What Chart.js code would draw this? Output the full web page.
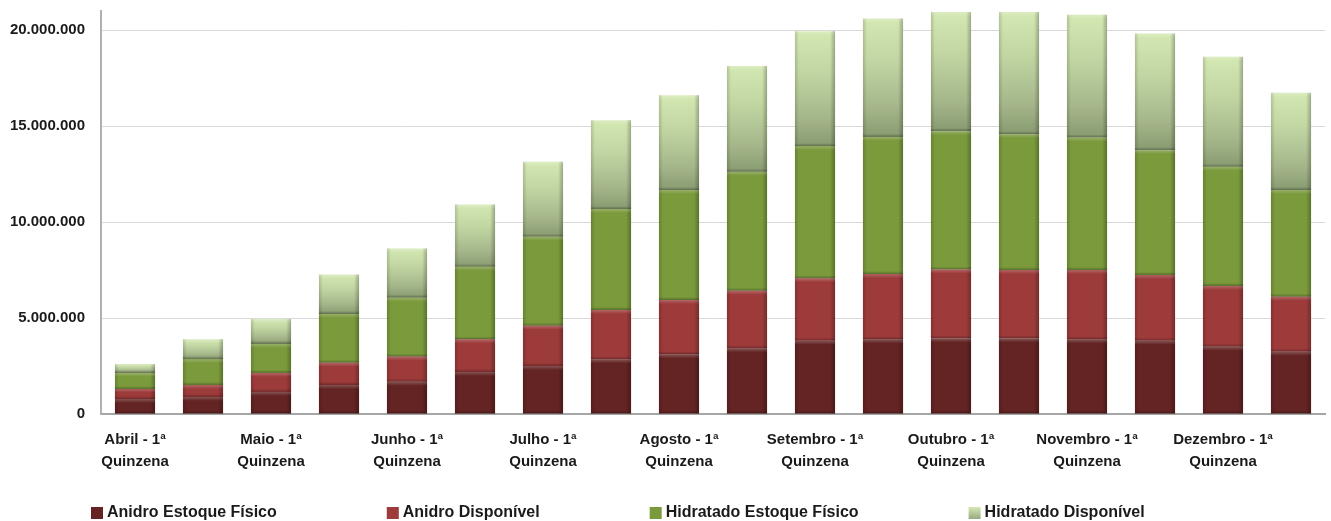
<!DOCTYPE html>
<html lang="pt-BR">
<head>
<meta charset="utf-8">
<title>Estoques de etanol por quinzena</title>
<script src="https://cdn.jsdelivr.net/npm/chart.js@4.4.1/dist/chart.umd.min.js"></script>
<style>
  html, body { margin: 0; padding: 0; background: #ffffff; }
  #wrap { width: 1331px; height: 521px; position: relative; overflow: hidden; }
  canvas { display: block; }
</style>
</head>
<body>
<div id="wrap"><canvas id="chart" width="1331" height="521"></canvas></div>
<script>
// Categories: fortnights from April to December
const quinzenas = [
  'Abril - 1ª Quinzena', 'Abril - 2ª Quinzena',
  'Maio - 1ª Quinzena', 'Maio - 2ª Quinzena',
  'Junho - 1ª Quinzena', 'Junho - 2ª Quinzena',
  'Julho - 1ª Quinzena', 'Julho - 2ª Quinzena',
  'Agosto - 1ª Quinzena', 'Agosto - 2ª Quinzena',
  'Setembro - 1ª Quinzena', 'Setembro - 2ª Quinzena',
  'Outubro - 1ª Quinzena', 'Outubro - 2ª Quinzena',
  'Novembro - 1ª Quinzena', 'Novembro - 2ª Quinzena',
  'Dezembro - 1ª Quinzena', 'Dezembro - 2ª Quinzena'
];

// Series (m³)
const anidroEstoqueFisico = [
  780000, 890000, 1150000, 1510000, 1680000, 2190000, 2500000, 2850000, 3110000,
  3420000, 3820000, 3890000, 3940000, 3940000, 3890000, 3820000, 3510000, 3250000
];
const anidroDisponivel = [
  520000, 620000, 990000, 1160000, 1310000, 1700000, 2100000, 2570000, 2830000,
  3000000, 3250000, 3400000, 3590000, 3560000, 3610000, 3420000, 3160000, 2860000
];
const hidratadoEstoqueFisico = [
  840000, 1350000, 1510000, 2540000, 3070000, 3780000, 4640000, 5260000, 5730000,
  6200000, 6890000, 7150000, 7210000, 7080000, 6910000, 6510000, 6210000, 5560000
];
const hidratadoDisponivel = [
  460000, 1040000, 1300000, 2060000, 2570000, 3250000, 3900000, 4630000, 4940000,
  5520000, 5990000, 6170000, 6210000, 6370000, 6400000, 6080000, 5730000, 5070000
];

const seriesNames = ['Anidro Estoque Físico', 'Anidro Disponível', 'Hidratado Estoque Físico', 'Hidratado Disponível'];

// Value axis
const yMax = 21000000;
const yTickValues = [0, 5000000, 10000000, 15000000, 20000000];

const seriesColors = ['#632423', '#9d3a3a', '#7a9a3c', '#bfd39f'];
const textColor = '#1a1a1a';
const baseFont = '"Liberation Sans", Arial, sans-serif';

function formatThousands(v) {
  return String(Math.round(v)).replace(/\B(?=(\d{3})+(?!\d))/g, '.');
}

// Vertical gradient for the top (Hidratado Disponível) segment
function hidratadoDispFill(ctx) {
  const chart = ctx.chart;
  const y = chart.scales && chart.scales.y;
  if (ctx.type !== 'data' || !y || !chart.chartArea) return seriesColors[3];
  const i = ctx.dataIndex;
  const below = anidroEstoqueFisico[i] + anidroDisponivel[i] + hidratadoEstoqueFisico[i];
  const top = y.getPixelForValue(below + hidratadoDisponivel[i]);
  const bottom = y.getPixelForValue(below);
  if (!isFinite(top) || !isFinite(bottom) || top === bottom) return seriesColors[3];
  const g = chart.ctx.createLinearGradient(0, top, 0, bottom);
  g.addColorStop(0, '#d4e8b3');
  g.addColorStop(0.35, '#c2d6a3');
  g.addColorStop(0.75, '#a5b78a');
  g.addColorStop(1, '#889a70');
  return g;
}

// Bevel shading drawn over each bar segment
const bevelPlugin = {
  id: 'bevel',
  afterDatasetsDraw(chart) {
    const ctx = chart.ctx;
    ctx.save();
    chart.data.datasets.forEach((ds, di) => {
      const meta = chart.getDatasetMeta(di);
      meta.data.forEach((el) => {
        const w = el.width;
        const l = el.x - w / 2, r = el.x + w / 2;
        const t = Math.min(el.y, el.base), b = Math.max(el.y, el.base);
        const h = b - t;
        if (h <= 0) return;
        let g = ctx.createLinearGradient(l, 0, l + 4, 0);
        g.addColorStop(0, 'rgba(0,0,0,0.16)');
        g.addColorStop(1, 'rgba(0,0,0,0)');
        ctx.fillStyle = g;
        ctx.fillRect(l, t, 4, h);
        g = ctx.createLinearGradient(r - 5, 0, r, 0);
        g.addColorStop(0, 'rgba(0,0,0,0)');
        g.addColorStop(1, 'rgba(0,0,0,0.26)');
        ctx.fillStyle = g;
        ctx.fillRect(r - 5, t, 5, h);
        const th = Math.min(4, h / 3);
        g = ctx.createLinearGradient(0, t, 0, t + th);
        g.addColorStop(0, 'rgba(255,255,255,0.22)');
        g.addColorStop(1, 'rgba(255,255,255,0)');
        ctx.fillStyle = g;
        ctx.fillRect(l, t, w, th);
        const bh = Math.min(3, h / 3);
        g = ctx.createLinearGradient(0, b - bh, 0, b);
        g.addColorStop(0, 'rgba(0,0,0,0)');
        g.addColorStop(1, 'rgba(0,0,0,0.28)');
        ctx.fillStyle = g;
        ctx.fillRect(l, b - bh, w, bh);
      });
    });
    ctx.restore();
  }
};

// Single-row legend along the bottom edge
const bottomLegend = {
  id: 'bottomLegend',
  afterDraw(chart, args, opts) {
    const ctx = chart.ctx;
    ctx.save();
    ctx.font = opts.font;
    ctx.textBaseline = 'middle';
    ctx.textAlign = 'left';
    let x = opts.startX;
    const s = opts.box;
    chart.data.datasets.forEach((ds, i) => {
      const top = opts.y - s / 2;
      if (i === 3) {
        const g = ctx.createLinearGradient(0, top, 0, top + s);
        g.addColorStop(0, '#d4e8b3');
        g.addColorStop(1, '#98aa7f');
        ctx.fillStyle = g;
      } else {
        ctx.fillStyle = seriesColors[i];
      }
      ctx.fillRect(x, top, s, s);
      ctx.fillStyle = opts.color;
      ctx.fillText(ds.label, x + s + opts.textGap, opts.y);
      x += s + opts.textGap + ctx.measureText(ds.label).width + opts.itemGap;
    });
    ctx.restore();
  }
};

const seriesData = [anidroEstoqueFisico, anidroDisponivel, hidratadoEstoqueFisico, hidratadoDisponivel];

new Chart(document.getElementById('chart'), {
  type: 'bar',
  data: {
    labels: quinzenas,
    datasets: seriesNames.map((name, i) => ({
      label: name,
      data: seriesData[i],
      backgroundColor: i === 3 ? hidratadoDispFill : seriesColors[i],
      borderWidth: 0,
      categoryPercentage: 1,
      barPercentage: 0.59
    }))
  },
  options: {
    responsive: false,
    animation: false,
    devicePixelRatio: 1,
    layout: { autoPadding: false, padding: { top: 11, right: 6, left: 0, bottom: 0 } },
    plugins: {
      legend: { display: false },
      tooltip: { enabled: false },
      bottomLegend: {
        startX: 91, y: 513, box: 12, textGap: 4, itemGap: 110,
        font: 'bold 16px ' + baseFont, color: textColor
      }
    },
    scales: {
      x: {
        stacked: true,
        grid: { display: false, drawTicks: false },
        border: { display: true, color: '#a6a6a6', width: 2 },
        afterFit(scale) {
          scale.height = 107;
          scale.paddingLeft = 0;
          scale.paddingRight = 0;
        },
        ticks: {
          autoSkip: false,
          maxRotation: 0,
          minRotation: 0,
          padding: 15,
          color: textColor,
          font: { family: baseFont, size: 15, weight: 'bold', lineHeight: 1.47 },
          callback(value, index) {
            if (index % 2 !== 0) return '';
            const label = this.getLabelForValue(value);
            const cut = label.lastIndexOf(' ');
            return [label.slice(0, cut), label.slice(cut + 1)];
          }
        }
      },
      y: {
        stacked: true,
        min: 0,
        max: yMax,
        afterFit(scale) {
          scale.width = 101;
          scale.paddingTop = 0;
          scale.paddingBottom = 0;
        },
        afterBuildTicks(scale) { scale.ticks = yTickValues.map((v) => ({ value: v })); },
        grid: { color: '#d9d9d9', lineWidth: 1, drawTicks: false },
        border: { display: true, color: '#b0b0b0', width: 2 },
        ticks: {
          padding: 16,
          color: textColor,
          font: { family: baseFont, size: 15, weight: 'bold' },
          callback: (v) => formatThousands(v)
        }
      }
    }
  },
  plugins: [bevelPlugin, bottomLegend]
});
</script>
</body>
</html>
